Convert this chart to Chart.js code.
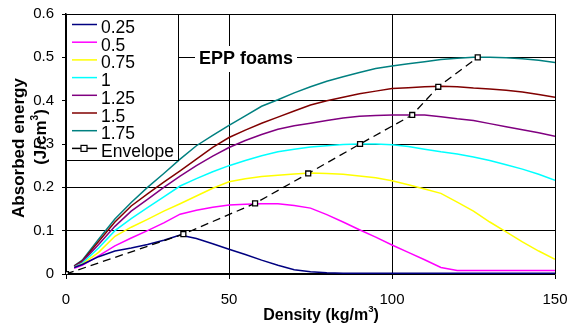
<!DOCTYPE html>
<html>
<head>
<meta charset="utf-8">
<script src="https://cdn.jsdelivr.net/npm/chart.js@4.4.1/dist/chart.umd.min.js"></script>
<style>
  html, body { margin: 0; padding: 0; background: #fff; }
  #wrap { width: 570px; height: 327px; }
</style>
</head>
<body>
<div id="wrap"><canvas id="myChart" width="570" height="327"></canvas></div>
<script>
const density = [2.5, 5, 10, 15, 20, 25, 30, 35, 40, 45, 50, 55, 60, 65, 70, 75, 80, 85, 90, 95, 100, 105, 110, 115, 120, 125, 130, 135, 140, 145, 150];

const e025 = [0.015,0.022,0.04,0.053,0.06,0.068,0.078,0.09,0.082,0.07,0.057,0.045,0.032,0.02,0.01,0.005,0.003,0.002,0.002,0.002,0.002,0.002,0.002,0.002,0.002,0.002,0.002,0.002,0.002,0.002,0.002];
const e050 = [0.013,0.02,0.042,0.065,0.083,0.1,0.118,0.138,0.147,0.154,0.159,0.161,0.162,0.162,0.158,0.152,0.137,0.12,0.102,0.085,0.067,0.05,0.033,0.015,0.008,0.008,0.008,0.008,0.008,0.008,0.008];
const e075 = [0.015,0.023,0.05,0.087,0.108,0.126,0.145,0.162,0.18,0.198,0.213,0.22,0.225,0.228,0.231,0.233,0.232,0.23,0.226,0.222,0.215,0.206,0.196,0.186,0.166,0.145,0.12,0.097,0.074,0.053,0.034];
const e100 = [0.016,0.025,0.06,0.1,0.128,0.153,0.178,0.203,0.22,0.236,0.25,0.262,0.273,0.282,0.288,0.293,0.296,0.299,0.3,0.3,0.298,0.294,0.288,0.282,0.277,0.27,0.262,0.252,0.242,0.23,0.216];
const e125 = [0.017,0.028,0.068,0.11,0.145,0.172,0.2,0.226,0.25,0.272,0.292,0.308,0.322,0.334,0.342,0.348,0.354,0.36,0.364,0.366,0.367,0.367,0.367,0.363,0.358,0.354,0.347,0.34,0.333,0.326,0.318];
const e150 = [0.018,0.03,0.075,0.12,0.157,0.185,0.212,0.238,0.265,0.292,0.315,0.332,0.348,0.362,0.376,0.39,0.4,0.408,0.416,0.422,0.428,0.43,0.432,0.433,0.432,0.429,0.427,0.424,0.42,0.414,0.408];
const e175 = [0.019,0.032,0.08,0.127,0.165,0.2,0.232,0.265,0.296,0.32,0.343,0.365,0.387,0.402,0.418,0.432,0.445,0.455,0.465,0.474,0.48,0.485,0.49,0.495,0.498,0.5,0.5,0.499,0.497,0.493,0.488];

const envX = [0, 36, 58, 74.3, 90.2, 106.2, 114.2, 126.3];
const envY = [0, 0.092, 0.163, 0.232, 0.3, 0.367, 0.432, 0.5];

const seriesNames = ['0.25', '0.5', '0.75', '1', '1.25', '1.5', '1.75'];
const seriesData = [e025, e050, e075, e100, e125, e150, e175];
const seriesColors = ['#000080', '#ff00ff', '#ffff00', '#00ffff', '#800080', '#800000', '#008080'];

const xTicks = [0, 50, 100, 150];
const yTicks = [0, 0.1, 0.2, 0.3, 0.4, 0.5, 0.6];

const FONT = '"Liberation Sans", Arial, sans-serif';

const dataset = seriesNames.map((name, i) => ({
  label: name,
  data: density.map((x, j) => ({x: x, y: seriesData[i][j]})),
  borderColor: seriesColors[i],
  backgroundColor: seriesColors[i],
  borderWidth: 1.5,
  pointRadius: 0,
  showLine: true,
  tension: 0,
  order: 1
}));
dataset.push({
  label: 'Envelope',
  data: envX.map((x, j) => ({x: x, y: envY[j]})),
  borderColor: '#000',
  backgroundColor: '#fff',
  borderWidth: 1.3,
  borderDash: [8, 5],
  pointStyle: 'rect',
  pointRadius: 3.5,
  pointBorderWidth: 1.3,
  pointBorderColor: '#000',
  pointBackgroundColor: '#fff',
  showLine: true,
  tension: 0,
  order: 0
});

// text with a raised "3"
function drawParts(ctx, parts, x, y, size) {
  let w = 0;
  parts.forEach(p => {
    ctx.font = 'bold ' + (p.sup ? size * 0.6 : size) + 'px ' + FONT;
    w += ctx.measureText(p.t).width;
  });
  let cx = x - w / 2;
  parts.forEach(p => {
    ctx.font = 'bold ' + (p.sup ? size * 0.6 : size) + 'px ' + FONT;
    ctx.fillText(p.t, cx, p.sup ? y - size * 0.5 : y);
    cx += ctx.measureText(p.t).width;
  });
}

const extras = {
  id: 'extras',
  afterDraw(chart) {
    const ctx = chart.ctx;
    ctx.save();
    ctx.fillStyle = '#000';
    ctx.textAlign = 'left';
    ctx.textBaseline = 'alphabetic';

    // EPP foams label
    ctx.fillStyle = '#fff';
    ctx.fillRect(195, 46, 102, 26);
    ctx.fillStyle = '#000';
    ctx.font = 'bold 18px ' + FONT;
    ctx.textAlign = 'center';
    ctx.fillText('EPP foams', 246, 64);

    // legend box
    ctx.textAlign = 'left';
    ctx.fillStyle = '#fff';
    ctx.fillRect(67, 14, 112, 146);
    ctx.strokeStyle = '#000';
    ctx.lineWidth = 1;
    ctx.strokeRect(66.5, 14.5, 112, 146);
    ctx.font = '17.5px ' + FONT;
    chart.data.datasets.forEach((d, i) => {
      const ly = 24.5 + i * 17.7;
      ctx.strokeStyle = d.borderColor;
      ctx.lineWidth = 1.5;
      ctx.beginPath();
      ctx.moveTo(72, ly);
      ctx.lineTo(97, ly);
      ctx.stroke();
      if (d.label === 'Envelope') {
        ctx.fillStyle = '#fff';
        ctx.fillRect(81, ly - 3, 6, 6);
        ctx.strokeStyle = '#000';
        ctx.lineWidth = 1.2;
        ctx.strokeRect(81, ly - 3, 6, 6);
      }
      ctx.fillStyle = '#000';
      ctx.fillText(d.label, 101, ly + 8.5);
    });

    // x title
    ctx.fillStyle = '#000';
    drawParts(ctx, [{t: 'Density (kg/m'}, {t: '3', sup: true}, {t: ')'}], 321, 320, 16);

    // y title
    ctx.save();
    ctx.translate(24, 148);
    ctx.rotate(-Math.PI / 2);
    drawParts(ctx, [{t: 'Absorbed energy'}], 0, 0, 17);
    ctx.restore();
    ctx.save();
    ctx.translate(46, 137);
    ctx.rotate(-Math.PI / 2);
    drawParts(ctx, [{t: '(J/cm'}, {t: '3', sup: true}, {t: ')'}], 0, 0, 17);
    ctx.restore();

    ctx.restore();
  }
};

const myChart = new Chart(document.getElementById('myChart'), {
  type: 'scatter',
  data: { datasets: dataset },
  plugins: [extras],
  options: {
    responsive: false,
    animation: false,
    layout: { padding: { top: 14, right: 15, left: 0, bottom: 0 } },
    plugins: {
      legend: { display: false },
      tooltip: { enabled: false }
    },
    scales: {
      x: {
        type: 'linear',
        min: 0,
        max: 150,
        afterFit: s => { s.height = 53; s.paddingLeft = 0; s.paddingRight = 0; },
        afterBuildTicks: s => { s.ticks = xTicks.map(v => ({value: v})); },
        grid: { color: '#000', lineWidth: 1, tickLength: 5, tickColor: '#000' },
        border: { color: '#000', width: 1.5 },
        ticks: { color: '#000', font: { family: FONT, size: 15 }, padding: 12, maxRotation: 0 }
      },
      y: {
        min: 0,
        max: 0.6,
        afterFit: s => { s.width = 66; s.paddingTop = 0; s.paddingBottom = 0; },
        afterBuildTicks: s => { s.ticks = yTicks.map(v => ({value: v})); },
        grid: { color: '#000', lineWidth: 1, tickLength: 4, tickColor: '#000' },
        border: { color: '#000', width: 1.5 },
        ticks: { color: '#000', font: { family: FONT, size: 15 }, padding: 8 }
      }
    }
  }
});
</script>
</body>
</html>
